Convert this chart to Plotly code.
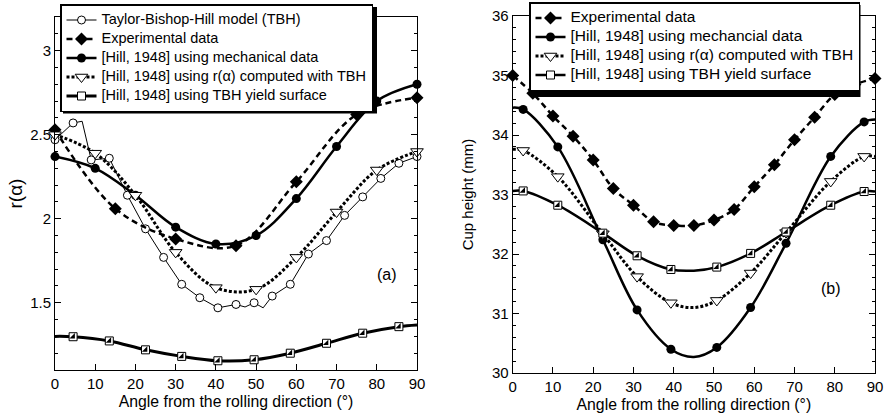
import plotly.graph_objects as go
from plotly.subplots import make_subplots

# ---------------- data: panel (a) r(alpha) ----------------
ang_exp_a = [0, 15, 30, 45, 60, 75, 90]
r_exp = [2.53, 2.06, 1.88, 1.84, 2.22, 2.62, 2.72]

ang_mech_a = [0, 10, 20, 30, 40, 50, 60, 70, 80, 90]
r_mech = [2.37, 2.30, 2.14, 1.95, 1.85, 1.90, 2.12, 2.43, 2.70, 2.80]

ang_tbh = [0, 4.5, 6.75, 9, 13.5, 18, 22.5, 27, 31.5, 36, 40.5, 45, 47.25, 49.5,
           51.75, 54, 58.5, 63, 67.5, 72, 76.5, 81, 85.5, 90]
r_tbh = [2.47, 2.57, 2.58, 2.35, 2.36, 2.14, 1.94, 1.77, 1.61, 1.53, 1.47, 1.49, 1.475,
         1.50, 1.47, 1.54, 1.61, 1.79, 1.87, 2.02, 2.13, 2.24, 2.33, 2.37]
tbh_marker = [1, 1, 0, 1, 1, 1, 1, 1, 1, 1, 1, 1, 0, 1, 0, 1, 1, 1, 1, 1, 1, 1, 1, 1]

ang_tri_a = [0, 10, 20, 30, 40, 50, 60, 70, 80, 90]
r_tri = [2.50, 2.39, 2.14, 1.80, 1.59, 1.58, 1.77, 2.04, 2.29, 2.40]

ang_sq_a = [0, 4.5, 13.5, 22.5, 31.5, 40.5, 49.5, 58.5, 67.5, 76.5, 85.5, 90]
r_sq = [1.30, 1.298, 1.273, 1.22, 1.181, 1.155, 1.161, 1.20, 1.259, 1.319, 1.358, 1.368]
sq_marker_a = [0, 1, 1, 1, 1, 1, 1, 1, 1, 1, 1, 0]

# ---------------- data: panel (b) cup height ----------------
ang_exp_b = [0, 5, 10, 15, 20, 25, 30, 35, 40, 45, 50, 55, 60, 65, 70, 75, 80, 85, 90]
h_exp = [35.0, 34.70, 34.32, 33.98, 33.58, 33.10, 32.82, 32.54, 32.48, 32.48, 32.57,
         32.75, 33.13, 33.50, 33.92, 34.30, 34.68, 34.85, 34.95]

ang_b = [0, 2.6, 11.2, 22.4, 30.9, 39.3, 45, 50.7, 59.1, 67.9, 79, 87.3, 90]
h_mech = [34.46, 34.43, 33.80, 32.24, 31.06, 30.40, 30.27, 30.43, 31.10, 32.18, 33.64, 34.22, 34.26]
h_tri = [33.76, 33.74, 33.30, 32.34, 31.62, 31.18, 31.10, 31.22, 31.68, 32.36, 33.22, 33.64, 33.64]
h_sq = [33.06, 33.06, 32.82, 32.35, 31.97, 31.74, 31.72, 31.78, 32.01, 32.37, 32.82, 33.05, 33.05]
b_marker = [0, 1, 1, 1, 1, 1, 0, 1, 1, 1, 1, 1, 0]

FONT = "Liberation Sans, Arial, Helvetica, sans-serif"

fig = make_subplots(rows=1, cols=2, horizontal_spacing=0.1)

EXP_LINE = dict(color="black", width=2.5, dash="6px,4px", shape="spline")
SOLID = dict(color="black", width=2.5, shape="spline")
DOTTED = dict(color="black", width=3, dash="3px,2px", shape="spline")
THIN = dict(color="black", width=1)

M_DIAMOND = dict(symbol="diamond", size=10, color="black")
M_CIRCLE = dict(symbol="circle", size=9, color="black")
M_OCIRCLE = dict(symbol="circle", size=8, color="white", line=dict(color="black", width=1))
M_TRI = dict(symbol="triangle-down", size=11, color="white", line=dict(color="black", width=1))
M_SQ = dict(symbol="square", size=8, color="white", line=dict(color="black", width=1))
M_SQ_HALF = dict(symbol="triangle-se", size=6, color="black", line=dict(width=0))


def label(text, px):
    return '<span style="font-size:%spx">%s</span>' % (px, text)


def series(x, y, flags, line, marker, name, legend, row, col, half=False):
    if flags is None:
        flags = [1] * len(x)
    mx = [a for a, f in zip(x, flags) if f]
    my = [b for b, f in zip(y, flags) if f]
    fig.add_trace(go.Scatter(x=x, y=y, mode="lines", line=line, showlegend=False,
                             hoverinfo="skip", cliponaxis=False), row=row, col=col)
    fig.add_trace(go.Scatter(x=mx, y=my, mode="markers", marker=marker, showlegend=False,
                             cliponaxis=False), row=row, col=col)
    if half:
        fig.add_trace(go.Scatter(x=mx, y=my, mode="markers", marker=M_SQ_HALF,
                                 showlegend=False, hoverinfo="skip", cliponaxis=False),
                      row=row, col=col)
    fig.add_trace(go.Scatter(x=[None], y=[None], mode="lines+markers", name=name,
                             legend=legend, line=line, marker=marker), row=row, col=col)


# ---- panel (a)
LA = 14.5
series(ang_tbh, r_tbh, tbh_marker, THIN, M_OCIRCLE, label("Taylor-Bishop-Hill model (TBH)", LA), "legend", 1, 1)
series(ang_exp_a, r_exp, None, EXP_LINE, M_DIAMOND, label("Experimental data", LA), "legend", 1, 1)
series(ang_mech_a, r_mech, None, SOLID, M_CIRCLE, label("[Hill, 1948] using mechanical data", LA), "legend", 1, 1)
series(ang_tri_a, r_tri, None, DOTTED, M_TRI, label("[Hill, 1948] using r(α) computed with TBH", LA), "legend", 1, 1)
series(ang_sq_a, r_sq, sq_marker_a, dict(SOLID, width=3), M_SQ,
       label("[Hill, 1948] using TBH yield surface", LA), "legend", 1, 1, half=True)

# ---- panel (b)
LB = 15.5
series(ang_exp_b, h_exp, None, EXP_LINE, M_DIAMOND, label("Experimental data", LB), "legend2", 1, 2)
series(ang_b, h_mech, b_marker, SOLID, M_CIRCLE, label("[Hill, 1948] using mechancial data", LB), "legend2", 1, 2)
series(ang_b, h_tri, b_marker, DOTTED, M_TRI, label("[Hill, 1948] using r(α) computed with TBH", LB), "legend2", 1, 2)
series(ang_b, h_sq, b_marker, SOLID, M_SQ, label("[Hill, 1948] using TBH yield surface", LB),
       "legend2", 1, 2, half=True)

axis_common = dict(showline=True, linecolor="black", linewidth=1, mirror="ticks",
                   ticks="inside", ticklen=6, tickcolor="black", showgrid=False,
                   zeroline=False, automargin=False,
                   tickfont=dict(family=FONT, size=15, color="black"))

PW = 829.0  # plot-area width (884 - left margin)


def px2paper_x(px):
    return (px - 55) / PW


def px2paper_y(py):
    return (373 - py) / 357.0


fig.update_xaxes(range=[0, 90], dtick=10, tick0=0,
                 title=dict(text="Angle from the rolling direction (°)",
                            font=dict(family=FONT, size=15.8, color="black"), standoff=4),
                 **axis_common)
fig.update_xaxes(domain=[px2paper_x(55), px2paper_x(417)], row=1, col=1)
fig.update_xaxes(domain=[px2paper_x(512.7), px2paper_x(875)], row=1, col=2)

fig.update_yaxes(range=[1.1, 3.2], tick0=1.5, dtick=0.5, domain=[0.0084, 0.997],
                 minor=dict(ticks="inside", ticklen=3, dtick=0.1, tick0=1.1, tickcolor="black"),
                 title=dict(text="r(α)", font=dict(family=FONT, size=19, color="black"), standoff=2),
                 row=1, col=1, **axis_common)
fig.update_yaxes(range=[30, 36], tick0=30, dtick=1, domain=[0, 1],
                 minor=dict(ticks="inside", ticklen=3, dtick=0.2, tick0=30, tickcolor="black"),
                 title=dict(text="Cup height (mm)", font=dict(family=FONT, size=15, color="black"),
                            standoff=14),
                 row=1, col=2, **axis_common)

legend_common = dict(bgcolor="white", bordercolor="black", borderwidth=1.5,
                     itemwidth=30, tracegroupgap=0, xanchor="left", yanchor="top")

shadow = dict(type="rect", xref="paper", yref="paper", fillcolor="black",
              line=dict(width=0), layer="above")

fig.update_layout(
    width=884, height=418,
    margin=dict(l=55, r=0, t=16, b=45),
    paper_bgcolor="white", plot_bgcolor="white",
    legend=dict(x=px2paper_x(60), y=px2paper_y(4), font=dict(family=FONT, size=11, color="black"),
                **legend_common),
    legend2=dict(x=px2paper_x(529), y=px2paper_y(2), font=dict(family=FONT, size=11, color="black"),
                 **legend_common),
    shapes=[
        dict(shadow, x0=px2paper_x(63), x1=px2paper_x(377), y0=px2paper_y(113.5), y1=px2paper_y(7)),
        dict(shadow, x0=px2paper_x(533), x1=px2paper_x(860.5), y0=px2paper_y(97), y1=px2paper_y(5)),
    ],
    annotations=[
        dict(text="(a)", x=px2paper_x(387), y=px2paper_y(285), xref="paper", yref="paper",
             showarrow=False, font=dict(family=FONT, size=16, color="black")),
        dict(text="(b)", x=px2paper_x(843), y=px2paper_y(299), xref="paper", yref="paper",
             showarrow=False, font=dict(family=FONT, size=16, color="black")),
    ],
)

fig.write_html("out.html", config={"displayModeBar": False},
               post_script="document.body.style.margin='0';")
